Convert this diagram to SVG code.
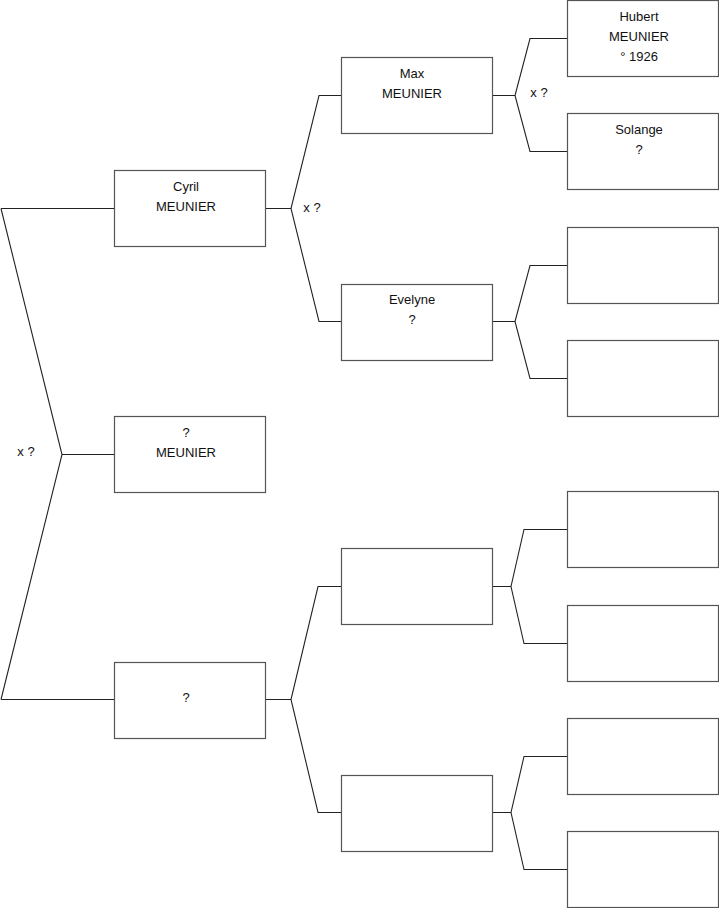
<svg xmlns="http://www.w3.org/2000/svg" width="719" height="908" viewBox="0 0 719 908">
<style>
.box{fill:#fff;stroke:#555;stroke-width:1.2}
.ln{fill:none;stroke:#222;stroke-width:1.1}
text{font-family:"Liberation Sans",Arial,sans-serif;font-size:13px;fill:#111}
.c{text-anchor:middle}
</style>
<rect width="719" height="908" fill="#fff"/>
<g id="connectors">
<path class="ln" d="M1,208.5 H114 M1,699.5 H114 M1,208.5 L62,454.5 L1,699.5 M62,454.5 H114"/>
<path class="ln" d="M265,208.5 H291 M341,95.5 H319 L291,208.5 L319,321.5 H341"/>
<path class="ln" d="M265,699.5 H291 M341,586.5 H318 L291,699.5 L318,812.5 H341"/>
<path class="ln" d="M492,95.5 H515 M567,38.5 H530 L515,95.5 L530,151.5 H567"/>
<path class="ln" d="M492,321.5 H515 M567,265.5 H530 L515,321.5 L530,378.5 H567"/>
<path class="ln" d="M492,586.5 H511 M567,529.5 H524 L511,586.5 L524,643.5 H567"/>
<path class="ln" d="M492,812.5 H511 M567,756.5 H524 L511,812.5 L524,869.5 H567"/>
<text x="26" y="456" class="c">x ?</text>
<text x="312" y="212" class="c">x ?</text>
<text x="539" y="97" class="c">x ?</text>
</g>
<g id="n-cyril"><rect class="box" x="114.5" y="170.5" width="151" height="76"/><text class="c" x="186" y="191">Cyril</text><text class="c" x="186" y="211">MEUNIER</text></g>
<g id="n-qmeunier"><rect class="box" x="114.5" y="416.5" width="151" height="76"/><text class="c" x="186" y="437">?</text><text class="c" x="186" y="457">MEUNIER</text></g>
<g id="n-q"><rect class="box" x="114.5" y="662.5" width="151" height="76"/><text class="c" x="186" y="702">?</text></g>
<g id="n-max"><rect class="box" x="341.5" y="57.5" width="151" height="76"/><text class="c" x="412" y="78">Max</text><text class="c" x="412" y="98">MEUNIER</text></g>
<g id="n-evelyne"><rect class="box" x="341.5" y="284.5" width="151" height="76"/><text class="c" x="412" y="304">Evelyne</text><text class="c" x="412" y="324">?</text></g>
<g id="n-c2-3"><rect class="box" x="341.5" y="548.5" width="151" height="76"/></g>
<g id="n-c2-4"><rect class="box" x="341.5" y="775.5" width="151" height="76"/></g>
<g id="n-hubert"><rect class="box" x="567.5" y="0.5" width="151" height="76"/><text class="c" x="639" y="21">Hubert</text><text class="c" x="639" y="41">MEUNIER</text><text class="c" x="639" y="61">° 1926</text></g>
<g id="n-solange"><rect class="box" x="567.5" y="113.5" width="151" height="76"/><text class="c" x="639" y="134">Solange</text><text class="c" x="639" y="154">?</text></g>
<g id="n-c3-3"><rect class="box" x="567.5" y="227.5" width="151" height="76"/></g>
<g id="n-c3-4"><rect class="box" x="567.5" y="340.5" width="151" height="76"/></g>
<g id="n-c3-5"><rect class="box" x="567.5" y="491.5" width="151" height="76"/></g>
<g id="n-c3-6"><rect class="box" x="567.5" y="605.5" width="151" height="76"/></g>
<g id="n-c3-7"><rect class="box" x="567.5" y="718.5" width="151" height="76"/></g>
<g id="n-c3-8"><rect class="box" x="567.5" y="831.5" width="151" height="76"/></g>
</svg>
